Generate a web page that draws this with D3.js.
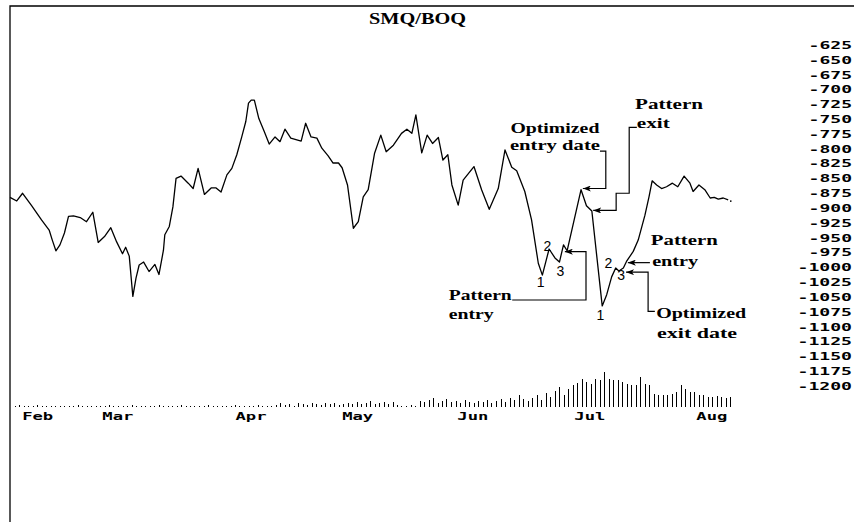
<!DOCTYPE html>
<html><head><meta charset="utf-8">
<script src="https://cdn.jsdelivr.net/npm/d3@7"></script>
<style>html,body{margin:0;padding:0;background:#fff;} svg{display:block;}</style>
</head><body><svg id="c" width="854" height="525"></svg>
<script>
// ---------- data ----------
const chartTitle = "SMQ/BOQ";
// trading-day position (0 = first session) and spread value of each traced vertex
const priceDay = [0,1.5,2.8,4.8,7.0,8.7,9.4,10.2,11.1,12.1,
13.0,14.1,15.6,17.0,18.4,19.6,21.0,22.4,23.7,25.0,
25.7,26.5,27.3,28.0,28.7,29.7,30.9,32.2,33.1,34.1,
34.4,35.4,36.2,36.9,38.0,39.6,40.7,41.8,43.2,44.7,
45.8,46.9,48.2,49.3,50.4,51.5,52.4,53.0,53.6,54.3,
55.3,56.5,57.6,58.9,60.0,61.1,62.4,64.7,65.7,66.9,
68.2,69.3,70.7,71.8,73.0,73.8,75.0,76.3,77.4,78.5,
79.6,81.0,82.4,83.6,85.2,87.0,88.2,89.3,90.2,91.5,
92.7,93.9,95.2,96.2,97.3,98.2,99.6,100.7,103.1,104.8,
106.5,108.5,110.0,111.5,112.6,114.4,115.9,117.4,118.3,119.8,
121.1,122.1,123.0,123.8,126.9,128.1,129.3,131.6,132.6,133.7,
134.6,135.3,136.3,137.0,138.5,139.6,141.1,142.0,142.7,143.7,
144.8,145.9,147.2,148.4,149.8,151.1,151.8,153.1,154.4,155.6,
156.5,157.4,158.5,159.6];
const priceValue = [-882,-888,-875,-896,-920,-937,-954,-972,-962,-942,
-914,-913,-916,-923,-907,-958,-948,-933,-957,-977,
-966,-981,-1049,-1018,-996,-991,-1007,-995,-1012,-971,
-945,-931,-898,-850,-846,-858,-867,-833,-877,-866,
-866,-873,-844,-833,-810,-780,-754,-723,-718,-718,
-749,-771,-792,-780,-788,-767,-782,-787,-757,-780,
-782,-799,-812,-824,-824,-832,-861,-934,-923,-881,
-869,-808,-777,-805,-794,-774,-767,-774,-743,-807,
-777,-791,-781,-819,-810,-861,-895,-853,-830,-869,
-902,-867,-802,-831,-837,-872,-920,-993,-1013,-969,
-984,-991,-962,-972,-869,-896,-905,-1065,-1046,-1016,
-1001,-1006,-1001,-990,-973,-954,-912,-881,-854,-861,
-867,-864,-858,-864,-846,-858,-872,-861,-869,-883,
-882,-885,-883,-886];
// volume per trading day 0..160
const volume = [0,1,2,1,1,1,2,1,1,1, 1,1,1,1,1,2,1,1,1,1, 1,1,2,1,1,1,1,2,1,1,
1,1,1,2,1,1,1,1,2,1, 1,1,1,1,2,1,1,1,1,1, 2,1,1,1,1,2,1,1,1,2,
4,2,3,1,4,3,2,4,3,2,4,3,4,2,3,4,
3,5,3,4,6,3,4,5,3,5,2,1,1,2,1,
6,5,7,9,4,6,8,5,6,
4,7,5,4,6,5,7,4,6,8,5,9,7,12,8,6,
9,12,7,14,10,16,20,12,18,22,
24,28,25,23,28,27,35,28,27,27,25,23,22,22,30,23,22,13,12,12,12,13,15,22,18,15,15,12,12,10,10,11,10,9,10];
const monthLabels = ["Feb","Mar","Apr","May","Jun","Jul","Aug"];
const monthDay = [2.6, 20.4, 50, 73.7, 99.3, 125.3, 152.4];
const yTickValues = [-625,-650,-675,-700,-725,-750,-775,-800,-825,-850,-875,-900,-925,-950,-975,
  -1000,-1025,-1050,-1075,-1100,-1125,-1150,-1175,-1200];

// annotations (text, day, value)
const annText  = ["Optimized","entry date","Pattern","exit","Pattern","entry","Pattern","entry","Optimized","exit date"];
const annDay   = [111.2,111.1,138.9,139.3,97.5,97.5,142.4,142.7,143.6,143.8];
const annValue = [-773,-802,-733,-765,-1055,-1087,-962,-998,-1085,-1119];
// connector arrows, in (day, value) points; last point is the arrow tip
const annPaths = [
  [[131.1,-804],[132.4,-804],[132.4,-867],[127.3,-867]],
  [[139.3,-764],[137.6,-764],[137.6,-875],[134.7,-875],[134.7,-904],[129.6,-904]],
  [[111.6,-1055],[128,-1055],[128,-973.5],[123.3,-973.5]],
  [[142.2,-992],[137.3,-992]],
  [[143.3,-1074],[141.8,-1074],[141.8,-1008],[136.9,-1008]]
];
// pattern point numbers
const ptText  = ["1","2","3","1","2","3"];
const ptDay   = [117.9,119.4,122.3,131.2,133.0,135.8];
const ptValue = [-1033,-972,-1014,-1089,-1001,-1021];

// ---------- drawing ----------
const svg = d3.select("#c");
const x = d3.scaleLinear().domain([0,160]).range([10,730]);
const y = d3.scaleLinear().domain([-625,-1200]).range([45,386]);
const v = d3.scaleLinear().domain([0,40]).range([407,367]);

// frame
svg.append("path").attr("d","M10,522V6H854").attr("fill","none").attr("stroke","#000").attr("stroke-width",1.3);

// title
svg.append("text").text(chartTitle).attr("x",369).attr("y",24)
  .attr("font-family","'Liberation Serif', serif").attr("font-weight","bold").attr("font-size",16)
  .attr("textLength",97).attr("lengthAdjust","spacingAndGlyphs");

// price line
const pts = priceDay.map((d,i)=>[d,priceValue[i]]);
svg.append("path").datum(pts)
  .attr("d", d3.line().x(d=>x(d[0])).y(d=>y(d[1])))
  .attr("fill","none").attr("stroke","#000").attr("stroke-width",1.3).attr("stroke-linejoin","round");
// final dot
svg.append("rect").attr("x",x(160)).attr("y",y(-887)).attr("width",1.5).attr("height",1.5);

// volume bars
svg.append("g").selectAll("line").data(volume).join("line")
  .attr("x1",(d,i)=>Math.round(x(i))+0.5).attr("x2",(d,i)=>Math.round(x(i))+0.5)
  .attr("y1",v(0)).attr("y2",d=>v(d))
  .attr("stroke","#000").attr("stroke-width",1);

// right axis labels
const yAxis = d3.axisRight(y).tickValues(yTickValues).tickSize(0).tickFormat(d=>String(d));
const gy = svg.append("g").attr("transform","translate(852,0)").call(yAxis);
gy.select(".domain").remove();
gy.selectAll("text").attr("x",0).attr("text-anchor","end")
  .attr("font-family","'DejaVu Sans Mono', monospace").attr("font-weight","bold").attr("font-size",10.5)
  .attr("fill","#000")
  .attr("textLength",d=>String(d).length*11.1-1).attr("lengthAdjust","spacingAndGlyphs");

// month labels
const xAxis = d3.axisBottom(x).tickValues(monthDay).tickSize(0).tickFormat((d,i)=>monthLabels[i]);
const gx = svg.append("g").attr("transform","translate(0,412)").call(xAxis);
gx.select(".domain").remove();
gx.selectAll("text").attr("y",8).attr("dy",null).attr("text-anchor","start")
  .attr("font-family","'DejaVu Sans Mono', monospace").attr("font-weight","bold").attr("font-size",11)
  .attr("fill","#000")
  .attr("textLength",31).attr("lengthAdjust","spacingAndGlyphs");

// arrow marker
svg.append("defs").append("marker").attr("id","arr")
  .attr("viewBox","0 0 8 6").attr("refX",8).attr("refY",3)
  .attr("markerWidth",8).attr("markerHeight",6).attr("markerUnits","userSpaceOnUse")
  .attr("orient","auto")
  .append("path").attr("d","M0,0L8,3L0,6L2,3z").attr("fill","#000");

// connector lines
svg.append("g").selectAll("path").data(annPaths).join("path")
  .attr("d", d3.line().x(p=>x(p[0])).y(p=>y(p[1])))
  .attr("fill","none").attr("stroke","#000").attr("stroke-width",1.2)
  .attr("marker-end","url(#arr)");

// annotation text
const annWidth = [89,90,68,33,63,45,67,46,90,80];
svg.append("g").selectAll("text").data(annText).join("text")
  .text(d=>d).attr("x",(d,i)=>x(annDay[i])).attr("y",(d,i)=>y(annValue[i]))
  .attr("font-family","'Liberation Serif', serif").attr("font-weight","bold").attr("font-size",15)
  .attr("textLength",(d,i)=>annWidth[i]).attr("lengthAdjust","spacingAndGlyphs");

// pattern numbers
svg.append("g").selectAll("text").data(ptText).join("text")
  .text(d=>d).attr("x",(d,i)=>x(ptDay[i])).attr("y",(d,i)=>y(ptValue[i]))
  .attr("text-anchor","middle").attr("fill","#000")
  .attr("font-family","'Liberation Sans', sans-serif").attr("font-size",14);
</script>
</body></html>
